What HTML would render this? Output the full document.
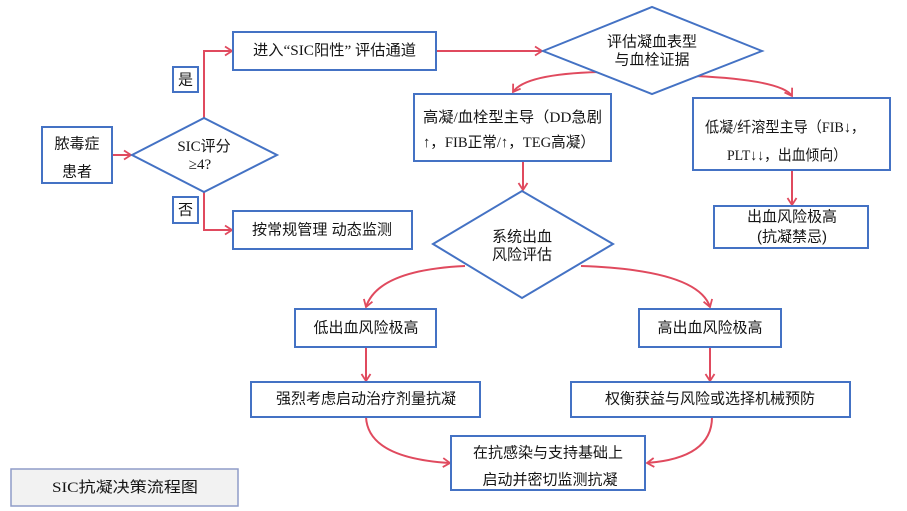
<!DOCTYPE html>
<html>
<head>
<meta charset="utf-8">
<style>
html,body{margin:0;padding:0;background:#fff;}
svg{display:block;}
text{font-family:"Liberation Serif","Noto Sans CJK SC",serif;fill:#151515;font-size:15px;}
.cj{font-family:"Liberation Sans","Noto Sans CJK SC",sans-serif;}
</style>
</head>
<body>
<svg width="907" height="511" viewBox="0 0 907 511" xmlns="http://www.w3.org/2000/svg">
<defs>
<marker id="a" markerWidth="12" markerHeight="12" refX="9" refY="6" orient="auto" markerUnits="userSpaceOnUse">
<path d="M2,1.5 L9,6 L2,10.5" fill="none" stroke="#e04a5e" stroke-width="1.8"/>
</marker>
</defs>
<g fill="none" stroke="#e04a5e" stroke-width="2">
<path d="M112,155 L131,155" marker-end="url(#a)"/>
<path d="M204,118 L204,51 L232,51" marker-end="url(#a)"/>
<path d="M204,192 L204,230 L232,230" marker-end="url(#a)"/>
<path d="M436,51 L542,51" marker-end="url(#a)"/>
<path d="M599,72 Q525,74 513,92" marker-end="url(#a)"/>
<path d="M695,76 Q782,80 792,96" marker-end="url(#a)"/>
<path d="M523,161 L523,190" marker-end="url(#a)"/>
<path d="M792,170 L792,205" marker-end="url(#a)"/>
<path d="M465,266 Q378,270 366,307" marker-end="url(#a)"/>
<path d="M581,266 Q698,270 710,307" marker-end="url(#a)"/>
<path d="M366,347 L366,381" marker-end="url(#a)"/>
<path d="M710,347 L710,381" marker-end="url(#a)"/>
<path d="M366,417 Q368,458 450,463" marker-end="url(#a)"/>
<path d="M712,417 Q712,458 647,463" marker-end="url(#a)"/>
</g>
<g fill="#fff" stroke="#4472c4" stroke-width="2">
<rect x="42" y="127" width="70" height="56"/>
<rect x="173" y="67" width="25" height="25"/>
<rect x="173" y="197" width="25" height="26"/>
<rect x="233" y="32" width="203" height="38"/>
<rect x="233" y="211" width="179" height="38"/>
<rect x="414" y="94" width="197" height="67"/>
<rect x="693" y="98" width="197" height="72"/>
<rect x="714" y="206" width="154" height="42"/>
<rect x="295" y="309" width="141" height="38"/>
<rect x="639" y="309" width="142" height="38"/>
<rect x="251" y="382" width="229" height="35"/>
<rect x="571" y="382" width="279" height="35"/>
<rect x="451" y="436" width="194" height="54"/>
<polygon points="132,155 204,118 277,155 204,192"/>
<polygon points="543,51 652,7 762,51 652,94"/>
<polygon points="433,244 522,191 613,244 522,298"/>
</g>
<rect x="11" y="469" width="227" height="37" fill="#f2f2f2" stroke="#8f9cc8" stroke-width="1.5"/>
<g dominant-baseline="central">
<text class="cj" x="77" y="144" text-anchor="middle">脓毒症</text>
<text class="cj" x="77" y="172" text-anchor="middle">患者</text>
<text class="cj" x="185.5" y="80" text-anchor="middle">是</text>
<text class="cj" x="185.5" y="210" text-anchor="middle">否</text>
<text x="253" y="51" textLength="163" lengthAdjust="spacingAndGlyphs">进入“SIC阳性” 评估通道</text>
<text class="cj" x="252" y="230" textLength="140" lengthAdjust="spacingAndGlyphs">按常规管理 动态监测</text>
<text x="204" y="147" text-anchor="middle">SIC评分</text>
<text x="200" y="165" text-anchor="middle">≥4?</text>
<text class="cj" x="652" y="42" text-anchor="middle">评估凝血表型</text>
<text class="cj" x="652" y="60" text-anchor="middle">与血栓证据</text>
<text x="423" y="118" textLength="179" lengthAdjust="spacingAndGlyphs">高凝/血栓型主导（DD急剧</text>
<text x="423" y="143" textLength="172" lengthAdjust="spacingAndGlyphs">↑，FIB正常/↑，TEG高凝）</text>
<text x="705" y="128" textLength="160" lengthAdjust="spacingAndGlyphs">低凝/纤溶型主导（FIB↓，</text>
<text x="727" y="156" textLength="120" lengthAdjust="spacingAndGlyphs">PLT↓↓，出血倾向）</text>
<text class="cj" x="792" y="217" text-anchor="middle">出血风险极高</text>
<text class="cj" x="792" y="237" text-anchor="middle">(抗凝禁忌)</text>
<text class="cj" x="522" y="237" text-anchor="middle">系统出血</text>
<text class="cj" x="522" y="255" text-anchor="middle">风险评估</text>
<text class="cj" x="366" y="328" text-anchor="middle">低出血风险极高</text>
<text class="cj" x="710" y="328" text-anchor="middle">高出血风险极高</text>
<text class="cj" x="366" y="399" text-anchor="middle">强烈考虑启动治疗剂量抗凝</text>
<text class="cj" x="710" y="399" text-anchor="middle">权衡获益与风险或选择机械预防</text>
<text class="cj" x="548" y="453" text-anchor="middle">在抗感染与支持基础上</text>
<text class="cj" x="550" y="480" text-anchor="middle">启动并密切监测抗凝</text>
<text x="52" y="488" font-size="17" textLength="146" lengthAdjust="spacingAndGlyphs">SIC抗凝决策流程图</text>
</g>
</svg>
</body>
</html>
